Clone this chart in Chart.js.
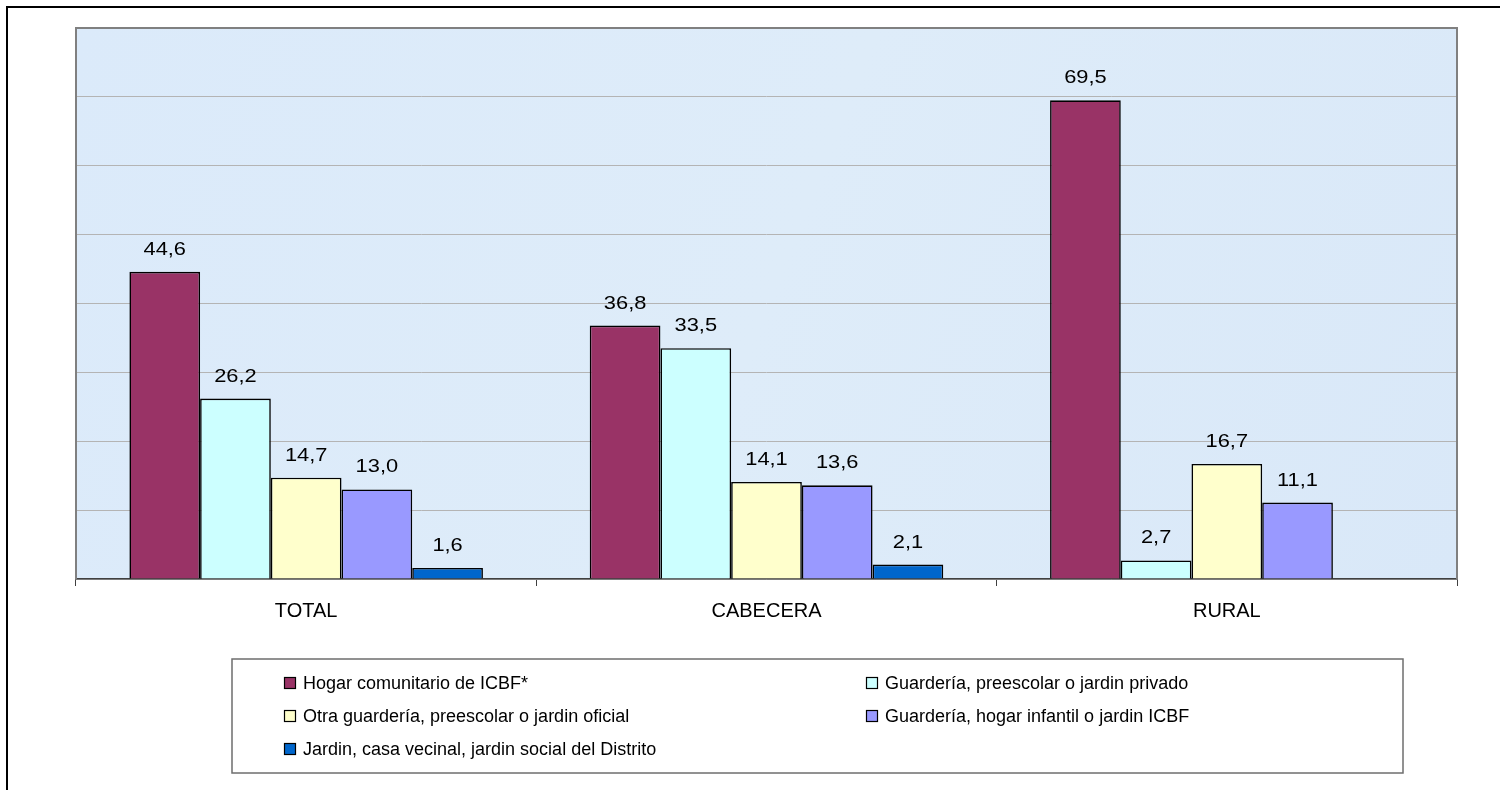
<!DOCTYPE html>
<html>
<head>
<meta charset="utf-8">
<script src="https://cdn.jsdelivr.net/npm/chart.js@4.4.1/dist/chart.umd.min.js"></script>
<style>
  html, body { margin: 0; padding: 0; background: #ffffff; }
  #wrap { width: 1500px; height: 790px; position: relative; }
</style>
</head>
<body>
<div id="wrap"><canvas id="c"></canvas></div>
<script>
const categories = ['TOTAL', 'CABECERA', 'RURAL'];
const seriesNames = [
  'Hogar comunitario de ICBF*',
  'Guardería, preescolar o jardin privado',
  'Otra guardería, preescolar o jardin oficial',
  'Guardería, hogar infantil o jardin ICBF',
  'Jardin, casa vecinal, jardin social del Distrito'
];
const hogarComunitario = [44.6, 36.8, 69.5];
const guarderiaPrivado = [26.2, 33.5, 2.7];
const otraOficial = [14.7, 14.1, 16.7];
const hogarInfantil = [13.0, 13.6, 11.1];
const jardinDistrito = [1.6, 2.1, null];
const seriesColors = ['#993366', '#CCFFFF', '#FFFFCC', '#9999FF', '#0066CC'];
const yMax = 80;
const yStep = 10;

const seriesValues = [hogarComunitario, guarderiaPrivado, otraOficial, hogarInfantil, jardinDistrito];

const FONT = 'Arial, "Liberation Sans", sans-serif';

const frameAndBg = {
  id: 'frameAndBg',
  beforeDraw(chart) {
    const ctx = chart.ctx;
    const a = chart.chartArea;
    ctx.save();
    ctx.fillStyle = '#ffffff';
    ctx.fillRect(0, 0, chart.width, chart.height);
    ctx.strokeStyle = '#000000';
    ctx.lineWidth = 2;
    ctx.strokeRect(7, 7, chart.width + 20, chart.height + 20);
    const g = ctx.createLinearGradient(a.left, a.top, a.right, a.bottom);
    g.addColorStop(0, '#dbeafa');
    g.addColorStop(0.5, '#deecf9');
    g.addColorStop(1, '#d9e8f8');
    ctx.fillStyle = g;
    ctx.fillRect(a.left, a.top, a.right - a.left, a.bottom - a.top);
    ctx.restore();
  },
  afterDatasetsDraw(chart) {
    const ctx = chart.ctx;
    const a = chart.chartArea;
    ctx.save();
    ctx.strokeStyle = '#808080';
    ctx.lineWidth = 2;
    ctx.beginPath();
    ctx.moveTo(a.left, a.bottom);
    ctx.lineTo(a.left, a.top);
    ctx.lineTo(a.right, a.top);
    ctx.lineTo(a.right, a.bottom);
    ctx.stroke();
    ctx.fillStyle = '#000000';
    ctx.font = '19px ' + FONT;
    ctx.textAlign = 'center';
    ctx.textBaseline = 'alphabetic';
    chart.data.datasets.forEach((ds, i) => {
      const meta = chart.getDatasetMeta(i);
      meta.data.forEach((bar, j) => {
        const v = ds.data[j];
        if (v === null || v === undefined) return;
        const txt = v.toFixed(1).replace('.', ',');
        ctx.save();
        ctx.translate(bar.x, bar.y - 17);
        ctx.scale(1.15, 1);
        ctx.fillText(txt, 0, 0);
        ctx.restore();
      });
    });
    ctx.restore();
  },
  afterDraw(chart) {
    const ctx = chart.ctx;
    const box = { l: 232, t: 659, r: 1403, b: 773 };
    ctx.save();
    ctx.fillStyle = '#ffffff';
    ctx.fillRect(box.l, box.t, box.r - box.l, box.b - box.t);
    ctx.strokeStyle = '#6e6e6e';
    ctx.lineWidth = 1.5;
    ctx.strokeRect(box.l, box.t, box.r - box.l, box.b - box.t);
    const colX = [284, 866];
    const rowY = [683, 716, 749];
    ctx.font = '18px ' + FONT;
    ctx.textAlign = 'left';
    ctx.textBaseline = 'middle';
    chart.data.datasets.forEach((ds, i) => {
      const x = colX[i % 2];
      const y = rowY[Math.floor(i / 2)];
      ctx.fillStyle = ds.backgroundColor;
      ctx.fillRect(x, y - 6, 12, 12);
      ctx.strokeStyle = '#000000';
      ctx.lineWidth = 1.2;
      ctx.strokeRect(x + 0.5, y - 5.5, 11, 11);
      ctx.fillStyle = '#000000';
      ctx.fillText(ds.label, x + 19, y + 1);
    });
    ctx.restore();
  }
};

new Chart(document.getElementById('c'), {
  type: 'bar',
  data: {
    labels: categories,
    datasets: seriesNames.map((name, i) => ({
      label: name,
      data: seriesValues[i],
      backgroundColor: seriesColors[i],
      borderColor: '#000000',
      borderWidth: 1.6,
      borderSkipped: 'start',
      categoryPercentage: 0.768,
      barPercentage: 1.0
    }))
  },
  options: {
    responsive: true,
    maintainAspectRatio: false,
    animation: false,
    layout: { padding: { left: 76, right: 43, top: 28, bottom: 0 } },
    plugins: {
      legend: { display: false },
      tooltip: { enabled: false },
      title: { display: false }
    },
    scales: {
      x: {
        offset: true,
        grid: {
          display: true,
          offset: true,
          drawOnChartArea: false,
          drawTicks: true,
          tickLength: 7,
          color: '#404040',
          lineWidth: 1
        },
        border: { display: true, color: '#404040', width: 1.5 },
        ticks: {
          color: '#000000',
          font: { family: FONT, size: 20 },
          padding: 13,
          maxRotation: 0
        },
        afterFit(s) { s.height = 790 - 579; }
      },
      y: {
        min: 0,
        max: yMax,
        ticks: { display: false, stepSize: yStep },
        grid: { color: '#b4b4b4', lineWidth: 1, drawTicks: false },
        border: { display: false },
        afterFit(s) { s.width = 0; }
      }
    }
  },
  plugins: [frameAndBg]
});
</script>
</body>
</html>
